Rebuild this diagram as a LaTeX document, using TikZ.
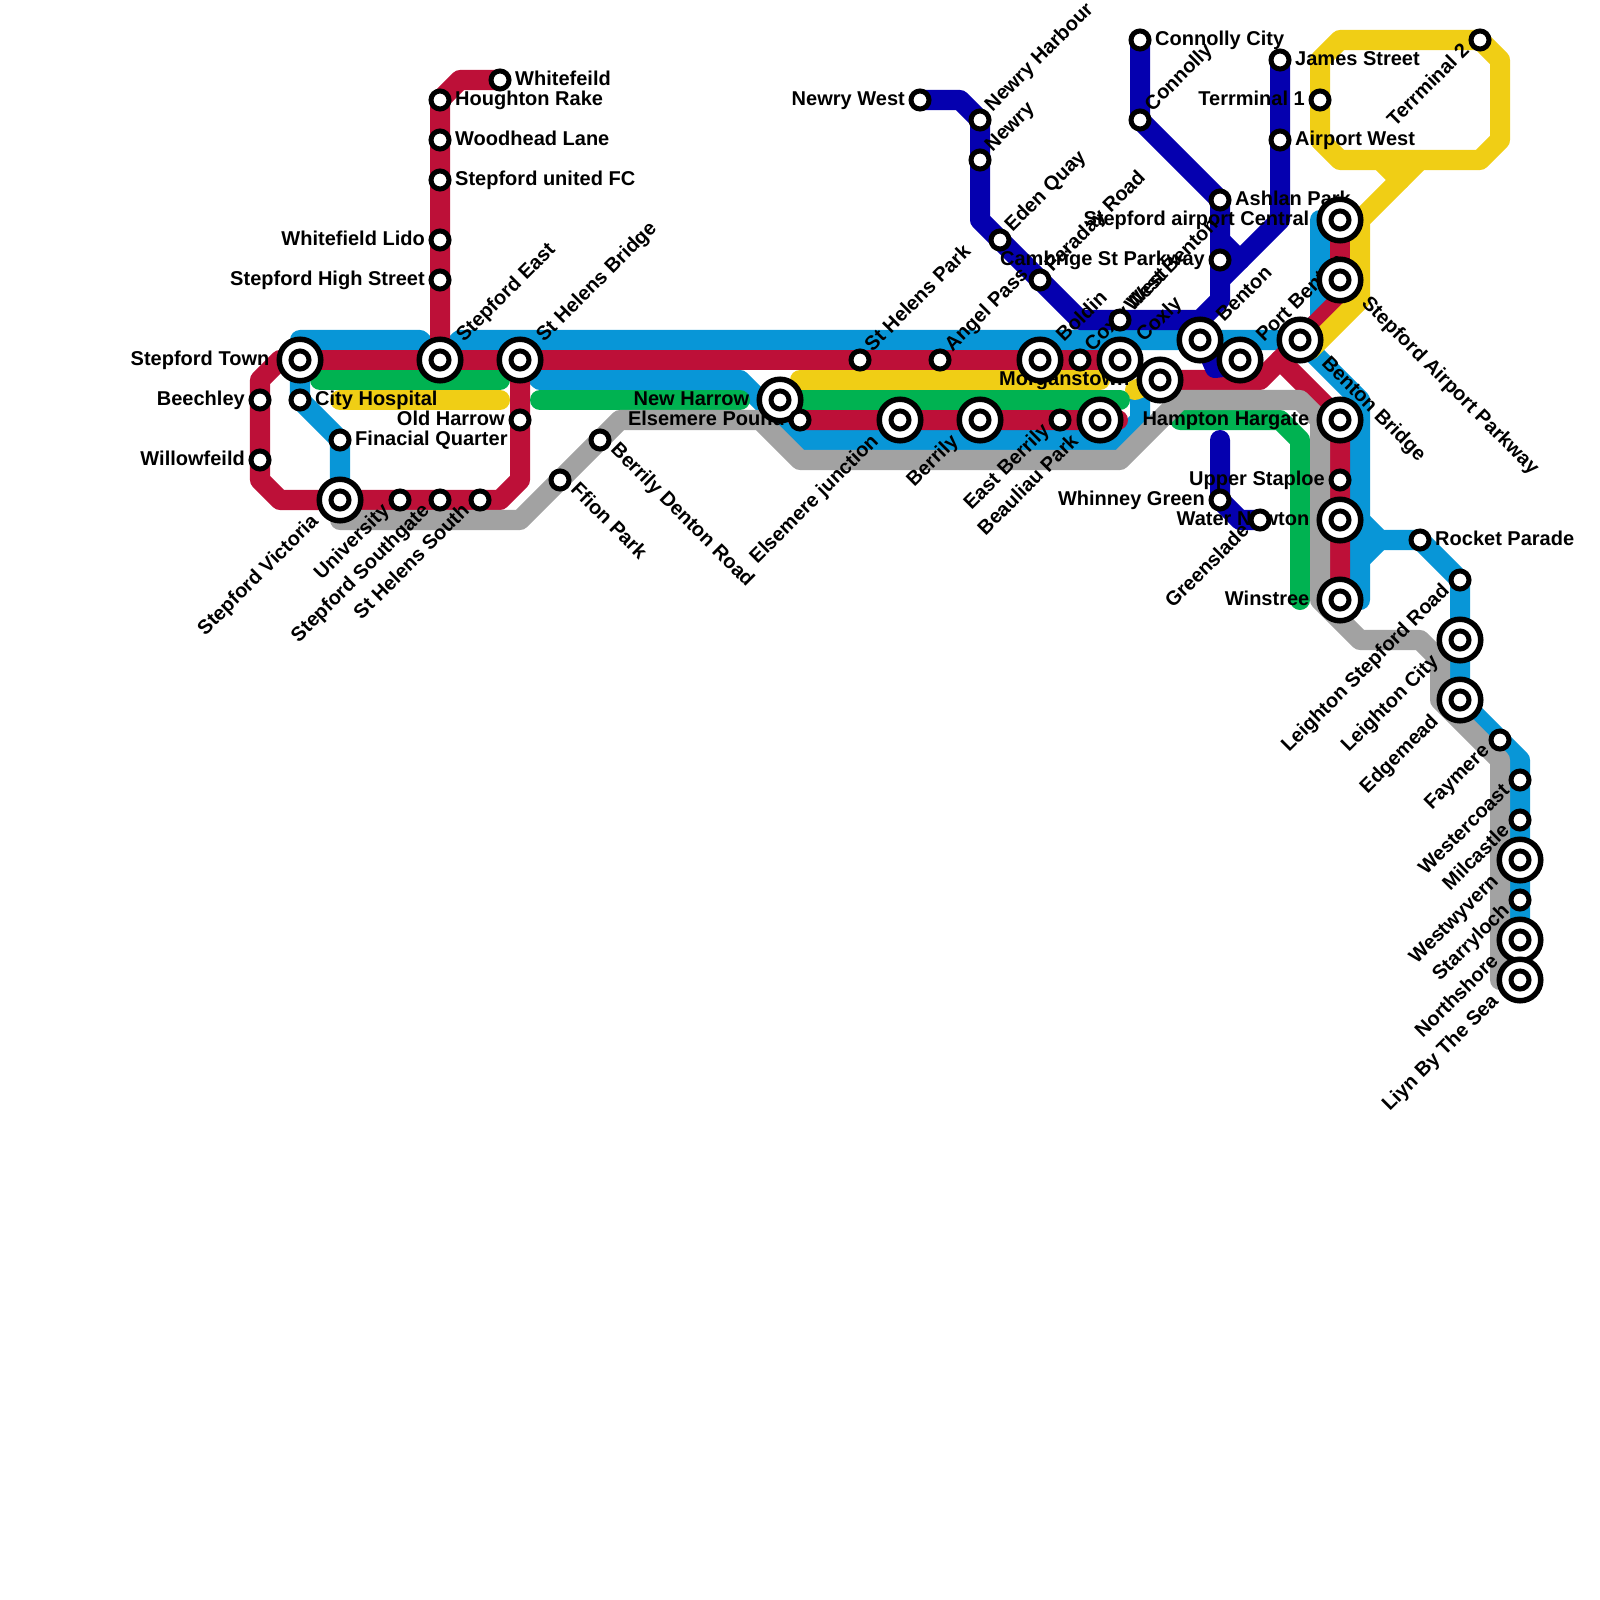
\documentclass[tikz,border=0pt]{standalone}
\usepackage{fontspec}
\setmainfont{Liberation Sans}
\definecolor{linered}{HTML}{BD1038}
\definecolor{lineblue}{HTML}{0896D7}
\definecolor{linegreen}{HTML}{00B251}
\definecolor{lineyellow}{HTML}{F0CE15}
\definecolor{linegrey}{HTML}{A2A2A2}
\definecolor{linenavy}{HTML}{0500AF}

\begin{document}
\begin{tikzpicture}[
  x=0.01cm,y=-0.01cm,
  track/.style={line width=0.2cm,line cap=round,line join=round},
  lab/.style={font=\fontsize{5.69pt}{6pt}\selectfont\bfseries,inner sep=0pt,text height=0.135cm,text depth=0.03cm},
  labE/.style={lab,anchor=west,xshift=0.145cm},
  labW/.style={lab,anchor=east,xshift=-0.145cm},
  labNE/.style={lab,anchor=west,xshift=0.085cm,yshift=0.111cm,rotate=45},
  labSW/.style={lab,anchor=east,xshift=-0.13cm,yshift=-0.076cm,rotate=45},
  labSE/.style={lab,anchor=west,xshift=0.13cm,yshift=-0.066cm,rotate=-45},
  hubW/.style={lab,anchor=east,xshift=-0.3cm},
  hubNE/.style={lab,anchor=west,xshift=0.2cm,yshift=0.203cm,rotate=45},
  hubSW/.style={lab,anchor=east,xshift=-0.24cm,yshift=-0.183cm,rotate=45},
  hubSE/.style={lab,anchor=west,xshift=0.24cm,yshift=-0.203cm,rotate=-45},
  stop/.style={circle,draw=black,fill=white,line width=0.05cm,inner sep=0pt,minimum size=0.18cm},
  hub/.style={circle,draw=black,fill=white,line width=0.055cm,inner sep=0pt,minimum size=0.415cm,
    path picture={\draw[line width=0.05cm] (path picture bounding box.center) circle[radius=0.09cm];}}
]
\useasboundingbox (0,0) rectangle (1600,1600);

% ------------------------------------------------------------
% Lines
% ------------------------------------------------------------
% Blue
\draw[track,lineblue] (340,500)--(340,440)--(300,400)--(300,340)--(420,340)--(440,360)--(460,340)--(1300,340)--(1320,320)--(1320,220)--(1340,220);
\draw[track,lineblue] (520,360)--(540,380)--(740,380)--(800,440)--(1120,440)--(1140,420)--(1140,390)--(1160,380);
\draw[track,lineblue] (1300,340)--(1360,400)--(1360,600);
\draw[track,lineblue] (1360,520)--(1380,540)--(1420,540)--(1460,580)--(1460,700)--(1520,760)--(1520,980);
\draw[track,lineblue] (1360,560)--(1380,540);

% Red
\draw[track,linered] (500,80)--(460,80)--(440,100)--(440,360);
\draw[track,linered] (300,360)--(1120,360);
\draw[track,linered] (300,360)--(280,360)--(260,380)--(260,480)--(280,500)--(500,500)--(520,480)--(520,360);
\draw[track,linered] (780,400)--(800,420)--(1118,420);
\draw[track,linered] (1160,380)--(1260,380)--(1280,360)--(1340,420)--(1340,600);
\draw[track,linered] (1280,360)--(1340,300)--(1340,220);

% Yellow
\draw[track,lineyellow] (1480,40)--(1340,40)--(1320,60)--(1320,140)--(1340,160)--(1480,160)--(1500,140)--(1500,60)--cycle;
\draw[track,lineyellow] (1420,160)--(1360,220)--(1360,300)--(1310,350);
\draw[track,lineyellow] (1380,160)--(1400,180);
\draw[track,lineyellow] (340,400)--(500,400);
\draw[track,lineyellow] (800,380)--(1100,380);
\draw[track,lineyellow] (1135,390)--(1160,380);

% Green
\draw[track,linegreen] (320,380)--(500,380);
\draw[track,linegreen] (540,400)--(740,400);
\draw[track,linegreen] (780,400)--(1120,400);
\draw[track,linegreen] (1180,420)--(1280,420)--(1300,440)--(1300,600);

% Grey
\draw[track,linegrey] (340,520)--(520,520)--(620,420)--(760,420)--(800,460)--(1120,460)--(1180,400)--(1300,400)--(1320,420)--(1320,600)--(1360,640)--(1420,640)--(1440,660)--(1440,700)--(1500,760)--(1500,980);

% Navy
\draw[track,linenavy] (920,100)--(960,100)--(980,120)--(980,220)--(1080,320)--(1200,320)--(1220,300)--(1220,200)--(1140,120)--(1140,40);
\draw[track,linenavy] (1280,60)--(1280,220)--(1220,280);
\draw[track,linenavy] (1220,240)--(1240,260);
\draw[track,linenavy] (1205,345)--(1215,368)--(1240,365);
\draw[track,linenavy] (1220,440)--(1220,500)--(1240,520)--(1260,520);

% ------------------------------------------------------------
% Station names
% ------------------------------------------------------------
\node[labE] (tWhitefeild) at (500,80) {Whitefeild};
\node[labE] (tHoughton) at (440,100) {Houghton Rake};
\node[labE] (tWoodhead) at (440,140) {Woodhead Lane};
\node[labE] (tUnited) at (440,180) {Stepford united FC};
\node[labW] (tLido) at (440,240) {Whitefield Lido};
\node[labW] (tHighSt) at (440,280) {Stepford High Street};
\node[hubNE] (tEast) at (440,360) {Stepford East};
\node[hubNE] (tBridge) at (520,360) {St Helens Bridge};
\node[hubW] (tTown) at (300,360) {Stepford Town};
\node[labW] (tBeechley) at (260,400) {Beechley};
\node[labW] (tWillow) at (260,460) {Willowfeild};
\node[labE] (tCity) at (300,400) {City Hospital};
\node[labE] (tFinacial) at (340,440) {Finacial Quarter};
\node[hubSW] (tVictoria) at (340,500) {Stepford Victoria};
\node[labSW] (tUniversity) at (400,500) {University};
\node[labSW] (tSouthgate) at (440,500) {Stepford Southgate};
\node[labSW] (tSouth) at (480,500) {St Helens South};
\node[labW] (tOldHarrow) at (520,420) {Old Harrow};
\node[labSE] (tFfion) at (560,480) {Ffion Park};
\node[labSE] (tDenton) at (600,440) {Berrily Denton Road};
\node[hubW] (tNewHarrow) at (780,400) {New Harrow};
\node[labW] (tPound) at (800,420) {Elsemere Pound};
\node[hubSW] (tJunction) at (900,420) {Elsemere junction};
\node[hubSW] (tBerrily) at (980,420) {Berrily};
\node[labSW] (tEastBerrily) at (1060,420) {East Berrily};
\node[hubSW] (tBeauliau) at (1100,420) {Beauliau Park};
\node[labNE] (tHelensPark) at (860,360) {St Helens Park};
\node[labNE] (tAngel) at (940,360) {Angel Pass};
\node[hubNE] (tBoldin) at (1040,360) {Boldin};
\node[labNE] (tCoxlyWest) at (1080,360) {Coxly West};
\node[hubNE] (tCoxly) at (1120,360) {Coxly};
\node[labNE] (tWestBenton) at (1120,320) {West Benton};
\node[hubW] (tMorgan) at (1160,380) {Morganstown};
\node[hubNE] (tBenton) at (1200,340) {Benton};
\node[hubNE] (tPort) at (1240,360) {Port Benton};
\node[hubSE] (tBentonBr) at (1300,340) {Benton Bridge};
\node[hubSE] (tParkway) at (1340,280) {Stepford Airport Parkway};
\node[hubW] (tCentral) at (1340,220) {Stepford airport Central};
\node[hubW] (tHampton) at (1340,420) {Hampton Hargate};
\node[labW] (tStaploe) at (1340,480) {Upper Staploe};
\node[hubW] (tWater) at (1340,520) {Water Newton};
\node[hubW] (tWinstree) at (1340,600) {Winstree};
\node[labSW] (tGreenslade) at (1260,520) {Greenslade};
\node[labW] (tWhinney) at (1220,500) {Whinney Green};
\node[labE] (tAshlan) at (1220,200) {Ashlan Park};
\node[labW] (tCambrige) at (1220,260) {Cambrige St Parkway};
\node[labE] (tConnCity) at (1140,40) {Connolly City};
\node[labNE] (tConnolly) at (1140,120) {Connolly};
\node[labE] (tJames) at (1280,60) {James Street};
\node[labE] (tAirport) at (1280,140) {Airport West};
\node[labW] (tTermOne) at (1320,100) {Terrminal 1};
\node[labSW] (tTermTwo) at (1480,40) {Terrminal 2};
\node[labE] (tRocket) at (1420,540) {Rocket Parade};
\node[labW] (tNewryW) at (920,100) {Newry West};
\node[labNE] (tHarbour) at (980,120) {Newry Harbour};
\node[labNE] (tNewry) at (980,160) {Newry};
\node[labNE] (tEden) at (1000,240) {Eden Quay};
\node[labNE] (tFaraday) at (1040,280) {Faraday Road};
\node[labSW] (tLeighRoad) at (1460,580) {Leighton Stepford Road};
\node[hubSW] (tLeighCity) at (1460,640) {Leighton City};
\node[hubSW] (tEdgemead) at (1460,700) {Edgemead};
\node[labSW] (tFaymere) at (1500,740) {Faymere};
\node[labSW] (tWestercoast) at (1520,780) {Westercoast};
\node[labSW] (tMilcastle) at (1520,820) {Milcastle};
\node[hubSW] (tWestwyvern) at (1520,860) {Westwyvern};
\node[labSW] (tStarryloch) at (1520,900) {Starryloch};
\node[hubSW] (tNorthshore) at (1520,940) {Northshore};
\node[hubSW] (tLiyn) at (1520,980) {Liyn By The Sea};

% ------------------------------------------------------------
% Stations
% ------------------------------------------------------------
\node[stop] (whitefeild) at (500,80) {};
\node[stop] (houghton) at (440,100) {};
\node[stop] (woodhead) at (440,140) {};
\node[stop] (united) at (440,180) {};
\node[stop] (lido) at (440,240) {};
\node[stop] (highst) at (440,280) {};
\node[hub] (east) at (440,360) {};
\node[hub] (bridge) at (520,360) {};
\node[hub] (town) at (300,360) {};
\node[stop] (beechley) at (260,400) {};
\node[stop] (willow) at (260,460) {};
\node[stop] (city) at (300,400) {};
\node[stop] (finacial) at (340,440) {};
\node[hub] (victoria) at (340,500) {};
\node[stop] (university) at (400,500) {};
\node[stop] (southgate) at (440,500) {};
\node[stop] (south) at (480,500) {};
\node[stop] (oldharrow) at (520,420) {};
\node[stop] (ffion) at (560,480) {};
\node[stop] (denton) at (600,440) {};
\node[hub] (newharrow) at (780,400) {};
\node[stop] (pound) at (800,420) {};
\node[hub] (junction) at (900,420) {};
\node[hub] (berrily) at (980,420) {};
\node[stop] (eastberrily) at (1060,420) {};
\node[hub] (beauliau) at (1100,420) {};
\node[stop] (helenspark) at (860,360) {};
\node[stop] (angel) at (940,360) {};
\node[hub] (boldin) at (1040,360) {};
\node[stop] (coxlywest) at (1080,360) {};
\node[hub] (coxly) at (1120,360) {};
\node[stop] (westbenton) at (1120,320) {};
\node[hub] (morgan) at (1160,380) {};
\node[hub] (benton) at (1200,340) {};
\node[hub] (port) at (1240,360) {};
\node[hub] (bentonbr) at (1300,340) {};
\node[hub] (parkway) at (1340,280) {};
\node[hub] (central) at (1340,220) {};
\node[hub] (hampton) at (1340,420) {};
\node[stop] (staploe) at (1340,480) {};
\node[hub] (water) at (1340,520) {};
\node[hub] (winstree) at (1340,600) {};
\node[stop] (greenslade) at (1260,520) {};
\node[stop] (whinney) at (1220,500) {};
\node[stop] (ashlan) at (1220,200) {};
\node[stop] (cambrige) at (1220,260) {};
\node[stop] (conncity) at (1140,40) {};
\node[stop] (connolly) at (1140,120) {};
\node[stop] (james) at (1280,60) {};
\node[stop] (airport) at (1280,140) {};
\node[stop] (termone) at (1320,100) {};
\node[stop] (termtwo) at (1480,40) {};
\node[stop] (rocket) at (1420,540) {};
\node[stop] (newryw) at (920,100) {};
\node[stop] (harbour) at (980,120) {};
\node[stop] (newry) at (980,160) {};
\node[stop] (eden) at (1000,240) {};
\node[stop] (faraday) at (1040,280) {};
\node[stop] (leighroad) at (1460,580) {};
\node[hub] (leighcity) at (1460,640) {};
\node[hub] (edgemead) at (1460,700) {};
\node[stop] (faymere) at (1500,740) {};
\node[stop] (westercoast) at (1520,780) {};
\node[stop] (milcastle) at (1520,820) {};
\node[hub] (westwyvern) at (1520,860) {};
\node[stop] (starryloch) at (1520,900) {};
\node[hub] (northshore) at (1520,940) {};
\node[hub] (liyn) at (1520,980) {};

\end{tikzpicture}
\end{document}
